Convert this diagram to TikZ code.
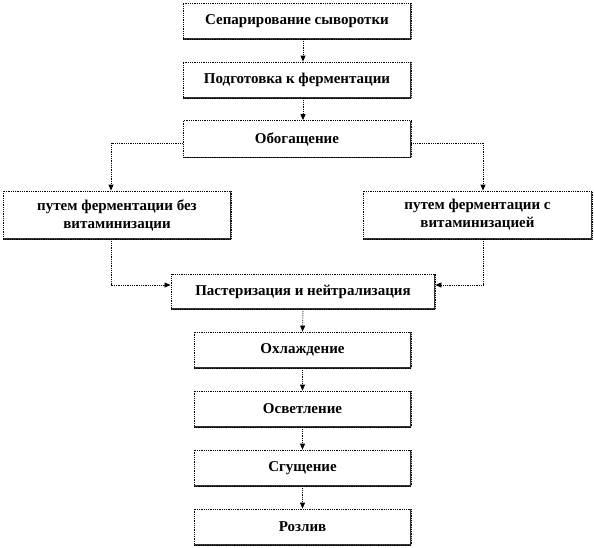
\documentclass[tikz,border=0pt]{standalone}
\usepackage{fontspec}
\setmainfont{Liberation Serif}
\usetikzlibrary{arrows.meta}
\tikzset{
  bx/.style={draw=black, densely dotted, line width=0.8pt, fill=white, align=center,
    font=\bfseries\fontsize{15}{18}\selectfont, inner sep=0pt,
    path picture={\draw[solid,line width=1.2pt,black!80]
      (path picture bounding box.south west) -- (path picture bounding box.south east)
      -- (path picture bounding box.north east);}},
  ar/.style={densely dotted, line width=0.8pt, -{Triangle[length=6pt,width=5pt]}}
}
\begin{document}
\begin{tikzpicture}[x=1pt,y=-1pt]
\useasboundingbox (0,0) rectangle (594,547);
\node[bx, minimum width=228pt, minimum height=36pt] (b1) at (297,21) {Сепарирование сыворотки};
\node[bx, minimum width=228pt, minimum height=36pt] (b2) at (297,80) {Подготовка к ферментации};
\node[bx, minimum width=228pt, minimum height=37pt] (b3) at (297,139) {Обогащение};
\node[bx, minimum width=228pt, minimum height=48pt] (l) at (117,215) {путем ферментации без\\витаминизации};
\node[bx, minimum width=229pt, minimum height=48pt] (r) at (477.5,215) {путем ферментации с\\витаминизацией};
\node[bx, minimum width=264pt, minimum height=35pt] (p) at (303,291.5) {Пастеризация и нейтрализация};
\node[bx, minimum width=217pt, minimum height=36pt] (c1) at (302.5,350) {Охлаждение};
\node[bx, minimum width=217pt, minimum height=36pt] (c2) at (302.5,409) {Осветление};
\node[bx, minimum width=217pt, minimum height=36pt] (c3) at (302.5,468) {Сгущение};
\node[bx, minimum width=217pt, minimum height=36pt] (c4) at (302.5,527) {Розлив};
\draw[ar] ([xshift=6pt]b1.south) -- ([xshift=6pt]b2.north);
\draw[ar] ([xshift=6pt]b2.south) -- ([xshift=6pt]b3.north);
\draw[ar] ([yshift=-4pt]b3.west) -| ([xshift=-6pt]l.north);
\draw[ar] ([yshift=-4pt]b3.east) -| ([xshift=5.5pt]r.north);
\draw[ar] ([xshift=-6pt]l.south) |- ([yshift=6.5pt]p.west);
\draw[ar] ([xshift=5.5pt]r.south) |- ([yshift=6.5pt]p.east);
\draw[ar] (p.south) -- (c1.north);
\draw[ar] (c1.south) -- (c2.north);
\draw[ar] (c2.south) -- (c3.north);
\draw[ar] (c3.south) -- (c4.north);
\end{tikzpicture}
\end{document}
